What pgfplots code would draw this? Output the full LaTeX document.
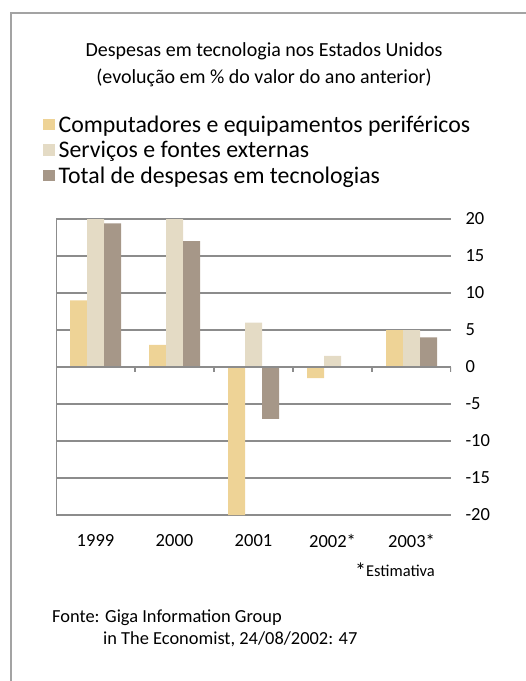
\documentclass[border=0pt]{standalone}
\usepackage{pgfplots}
\pgfplotsset{compat=1.18}
\usepackage{fontspec}
\setmainfont{Carlito}
\definecolor{compc}{RGB}{238,211,150}
\definecolor{servc}{RGB}{228,219,197}
\definecolor{totc}{RGB}{166,151,136}
\definecolor{gridc}{RGB}{140,140,140}
\begin{document}
\begin{tikzpicture}
\useasboundingbox (0,0) rectangle (526pt,-681pt);
\draw[gridc!80, line width=1.3pt] (11pt,-681pt) -- (11pt,-13pt) -- (526pt,-13pt);
\node[font=\fontsize{20}{27}\selectfont, align=center] at (264pt,-65pt) {Despesas em tecnologia nos Estados Unidos\\(evolução em \% do valor do ano anterior)};
\begin{axis}[
  at={(56pt,-515pt)}, anchor=south west,
  scale only axis, width=395pt, height=296pt,
  xmin=-0.5, xmax=4.5, ymin=-20, ymax=20,
  ybar=0pt, bar width=17pt,
  axis line style={draw=none},
  xtick={0,1,2,3,4}, xticklabels={1999,2000,2001,2002*,2003*},
  ytick={-20,-15,...,20},
  yticklabel pos=right,
  major tick length=0pt,
  tick style={draw=none},
  ymajorgrids, grid style={gridc, line width=1.2pt},
  /pgf/number format/assume math mode=true,
  tick label style={font=\fontsize{18.5}{20}\selectfont},
  yticklabel style={anchor=west, xshift=11pt},
  xticklabel style={yshift=-16pt},
  legend style={at={(-0.033,1.350)}, anchor=north west, draw=none, fill=none,
    font=\fontsize{23.8}{25}\selectfont, row sep=7.5pt, inner sep=0pt,
    nodes={inner sep=0pt},
    /tikz/every odd column/.append style={column sep=4pt}},
  legend cell align=left,
  legend image code/.code={\fill[#1] (0pt,-5.5pt) rectangle (11.5pt,6pt);},
]
\addplot[fill=compc, draw=none] coordinates {(0,9) (1,3) (2,-20) (3,-1.5) (4,5)};
\addplot[fill=servc, draw=none] coordinates {(0,20) (1,20) (2,6) (3,1.5) (4,5)};
\addplot[fill=totc, draw=none] coordinates {(0,19.4) (1,17) (2,-7) (3,0) (4,4)};
\legend{Computadores e equipamentos periféricos, Serviços e fontes externas, Total de despesas em tecnologias}
\draw[gridc, line width=1.2pt] (axis cs:-0.5,-20) -- (axis cs:-0.5,20);
\pgfplotsinvokeforeach{-20,-15,-10,-5,0,5,10,15,20}{\draw[gridc, line width=1.2pt] (axis cs:-0.5,#1) -- ++(-5pt,0pt);}
\pgfplotsinvokeforeach{0.5,1.5,2.5,3.5,4.5}{\draw[gridc, line width=1.2pt] (axis cs:#1,0) -- ++(0pt,-5pt);}
\draw[gridc, line width=1.2pt] (axis cs:-0.5,0) -- (axis cs:4.5,0);
\end{axis}
\node[font=\fontsize{16.5}{20}\selectfont] at (395pt,-571pt) {\raisebox{-2pt}{\fontsize{22}{20}\selectfont *}Estimativa};
\node[font=\fontsize{18.4}{20}\selectfont, anchor=west, inner sep=0pt] at (52pt,-618pt) {Fonte: Giga Information Group};
\node[font=\fontsize{18.4}{20}\selectfont, anchor=west, inner sep=0pt] at (103pt,-639pt) {in The Economist, 24/08/2002: 47};
\end{tikzpicture}
\end{document}
